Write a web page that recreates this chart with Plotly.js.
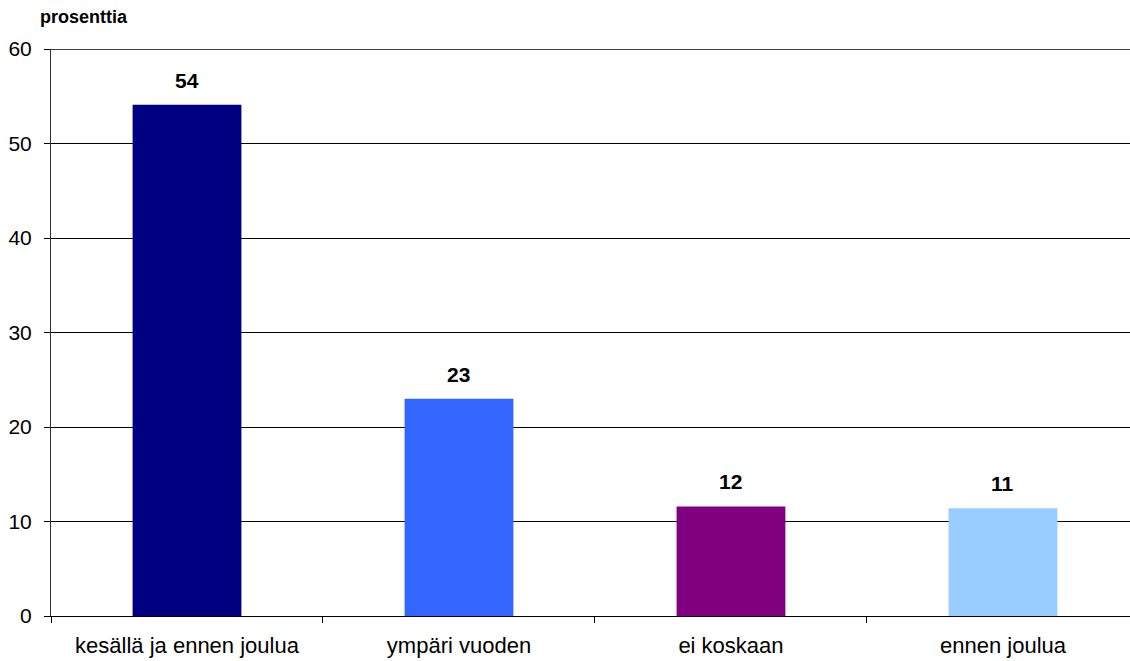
<!DOCTYPE html>
<html><head><meta charset="utf-8">
<script src="https://cdn.plot.ly/plotly-3.0.1.min.js"></script>
<style>html,body{margin:0;padding:0;background:#fff;}#chart{width:1130px;height:661px;}</style>
</head><body><div id="chart"></div>
<script>
const categories = ["kesällä ja ennen joulua", "ympäri vuoden", "ei koskaan", "ennen joulua"];
const values = [54.1, 23.0, 11.6, 11.4];
const labels = ["54", "23", "12", "11"];
const colors = ["#000080", "#3366FF", "#800080", "#99CCFF"];
const yTicks = [0, 10, 20, 30, 40, 50, 60];

const font = "Liberation Sans, Arial, sans-serif";
const trace = {
  type: "bar", x: categories, y: values,
  marker: {color: colors, line: {width: 0}},
  width: 0.4, hoverinfo: "skip"
};
const annotations = categories.map((c, i) => ({
  x: c, y: values[i], text: "<b>" + labels[i] + "</b>", showarrow: false,
  yanchor: "bottom", yshift: 11, font: {family: font, size: 21, color: "#000"}
}));
annotations.push({
  xref: "paper", yref: "paper", x: -0.0125, y: 1.036, xanchor: "left", yanchor: "bottom",
  text: "<b>prosenttia</b>", showarrow: false, font: {family: font, size: 18, color: "#000"}
});
const topY = Math.max(...yTicks);
Plotly.newPlot("chart", [trace], {
  width: 1130, height: 661,
  margin: {l: 51, r: 0, t: 49, b: 45},
  paper_bgcolor: "#fff", plot_bgcolor: "#fff",
  showlegend: false,
  xaxis: {
    range: [-0.5, 3.467], showgrid: false, showline: true, linecolor: "#000", linewidth: 1,
    ticks: "outside", tickson: "boundaries", ticklen: 6, tickcolor: "#000",
    ticklabelstandoff: 10,
    tickfont: {family: font, size: 22, color: "#000"}, zeroline: false, fixedrange: true
  },
  yaxis: {
    range: [0, topY], tickvals: yTicks, showgrid: true, gridcolor: "#000", gridwidth: 1,
    showline: true, linecolor: "#333", linewidth: 1, ticks: "outside", ticklen: 6, tickcolor: "#000",
    ticklabelstandoff: 8,
    tickfont: {family: font, size: 21, color: "#000"}, zeroline: false, fixedrange: true
  },
  shapes: [{type: "line", xref: "paper", yref: "y", x0: 0, x1: 1, y0: topY, y1: topY,
            line: {color: "#000", width: 1.5}}],
  annotations: annotations,
  font: {family: font}
}, {displayModeBar: false, staticPlot: true});
</script></body></html>
